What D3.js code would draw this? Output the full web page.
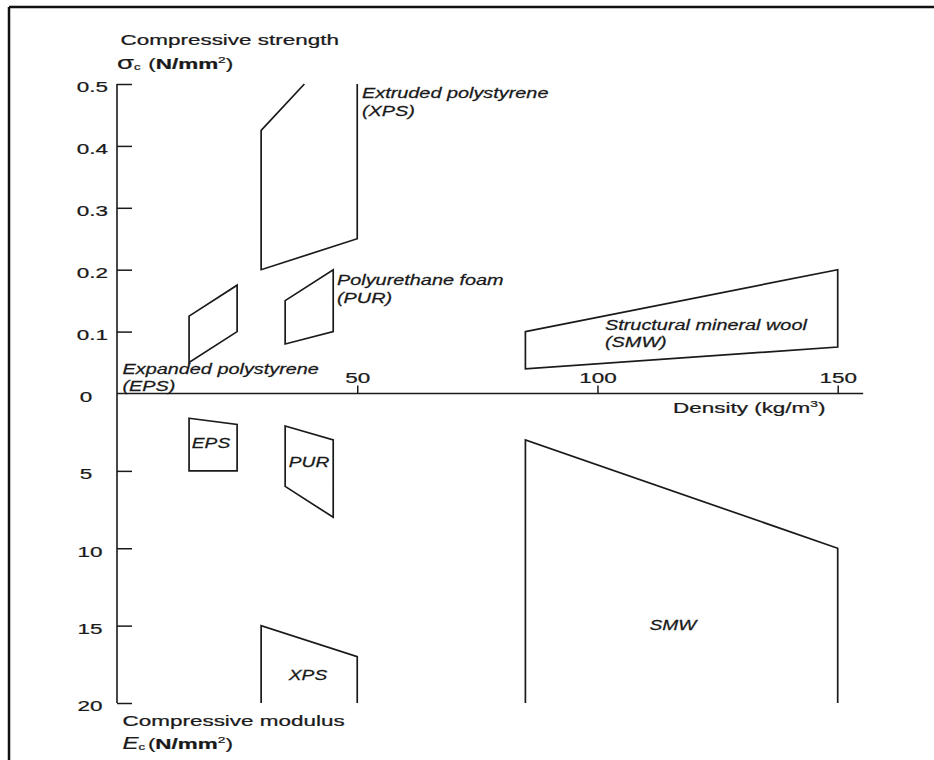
<!DOCTYPE html>
<html>
<head>
<meta charset="utf-8">
<script src="https://cdn.jsdelivr.net/npm/d3@7"></script>
<style>
  html, body { margin: 0; padding: 0; background: #fff; }
  svg { display: block; }
  text { font-family: "Liberation Sans", Arial, sans-serif; fill: #1a1a1a; stroke: #1a1a1a; stroke-width: 0.25px; }
</style>
</head>
<body>
<svg id="chart" width="934" height="760"></svg>
<script>
// Density in kg/m3, compressive strength in N/mm2, compressive modulus in N/mm2
const densityTicks = [50, 100, 150];
const strengthTicks = [0.1, 0.2, 0.3, 0.4, 0.5];
const modulusTicks = [0, 5, 10, 15, 20];

// Strength ranges (upper half): [density, strength]
const epsStrength = [[15, 0.125], [25, 0.175], [25, 0.1], [15, 0.05]];
const purStrength = [[35, 0.15], [45, 0.2], [45, 0.1], [35, 0.08]];
const xpsStrength = [[39, 0.5], [30, 0.425], [30, 0.2], [50, 0.25], [50, 0.5]];
const smwStrength = [[85, 0.1], [150, 0.2], [150, 0.075], [85, 0.04]];

// Modulus ranges (lower half): [density, modulus]
const epsModulus = [[15, 1.6], [25, 2.0], [25, 5], [15, 5]];
const purModulus = [[35, 2.1], [45, 3], [45, 8], [35, 6]];
const xpsModulus = [[30, 20], [30, 15], [50, 17], [50, 20]];
const smwModulus = [[85, 20], [85, 3], [150, 10], [150, 20]];

const strengthShapes = [
  { pts: epsStrength, closed: true },
  { pts: purStrength, closed: true },
  { pts: xpsStrength, closed: false },
  { pts: smwStrength, closed: true }
];
const modulusShapes = [
  { pts: epsModulus, closed: true },
  { pts: purModulus, closed: true },
  { pts: xpsModulus, closed: false },
  { pts: smwModulus, closed: false }
];

const svg = d3.select("#chart");
const ink = "#1a1a1a";
const sx = 1.45;   // wide lettering
const sxI = 1.37;  // wide italic lettering

// frame
svg.append("line").attr("x1", 9).attr("x2", 934).attr("y1", 7).attr("y2", 7)
  .attr("stroke", "#111").attr("stroke-width", 2.5);
svg.append("line").attr("x1", 9).attr("x2", 9).attr("y1", 7).attr("y2", 760)
  .attr("stroke", "#111").attr("stroke-width", 2.5);

const x = d3.scaleLinear().domain([0, 150]).range([117, 837.7]);
const yTop = d3.scaleLinear().domain([0, 0.5]).range([393.5, 84]);
const yBot = d3.scaleLinear().domain([0, 20]).range([393.5, 703]);
const xAxisEnd = 155.3;

// axis lines
svg.append("line").attr("x1", x(0)).attr("x2", x(0))
  .attr("y1", yTop(0.5)).attr("y2", yBot(20))
  .attr("stroke", ink).attr("stroke-width", 1.6);
svg.append("line").attr("x1", x(0)).attr("x2", x(xAxisEnd))
  .attr("y1", yTop(0)).attr("y2", yTop(0))
  .attr("stroke", ink).attr("stroke-width", 1.6);

function styleAxis(g) {
  g.select(".domain").remove();
  g.selectAll(".tick line").attr("stroke", ink).attr("stroke-width", 1.5);
  g.selectAll(".tick text").attr("fill", ink).style("font-size", "15.5px")
    .style("font-family", '"Liberation Sans", Arial, sans-serif');
}

// inward tick marks on the vertical axis
svg.append("g").attr("transform", `translate(${x(0)},0)`)
  .call(d3.axisRight(yTop).tickValues(strengthTicks).tickSize(15).tickFormat(""))
  .call(styleAxis);
svg.append("g").attr("transform", `translate(${x(0)},0)`)
  .call(d3.axisRight(yBot).tickValues(modulusTicks.filter(d => d > 0)).tickSize(15).tickFormat(""))
  .call(styleAxis);

// strength labels
const gTopLab = svg.append("g").attr("transform", `translate(${x(0)},0)`)
  .call(d3.axisLeft(yTop).tickValues(strengthTicks).tickSize(0).tickFormat(d3.format(".1f")))
  .call(styleAxis);
gTopLab.selectAll(".tick text")
  .attr("x", -9 / sx).attr("dy", "0.5em").attr("text-anchor", "end")
  .attr("transform", `scale(${sx},1)`);

// modulus labels
const gBotLab = svg.append("g").attr("transform", `translate(${x(0)},0)`)
  .call(d3.axisLeft(yBot).tickValues(modulusTicks).tickSize(0).tickFormat(d3.format("d")))
  .call(styleAxis);
gBotLab.selectAll(".tick text")
  .attr("text-anchor", "middle")
  .attr("x", d => (d < 10 ? -31 : -27) / sx)
  .attr("dy", "0.5em")
  .attr("transform", `scale(${sx},1)`);

// density axis: ticks upward, labels above
const gX = svg.append("g").attr("transform", `translate(0,${yTop(0)})`)
  .call(d3.axisTop(x).tickValues(densityTicks).tickSize(8).tickPadding(2.5).tickFormat(d3.format("d")))
  .call(styleAxis);
gX.selectAll(".tick text").attr("transform", `scale(${sx},1)`);

// range outlines
const lineTop = d3.line().x(d => x(d[0])).y(d => yTop(d[1]));
const lineBot = d3.line().x(d => x(d[0])).y(d => yBot(d[1]));
function drawShapes(shapes, gen) {
  svg.append("g").selectAll("path").data(shapes).join("path")
    .attr("d", s => gen(s.pts) + (s.closed ? "Z" : ""))
    .attr("fill", "none").attr("stroke", ink)
    .attr("stroke-width", 1.7).attr("stroke-linejoin", "miter");
}
drawShapes(strengthShapes, lineTop);
drawShapes(modulusShapes, lineBot);

// text helper with horizontal stretch
function label(px, py, parts, opts = {}) {
  const s = opts.sx || sx;
  const t = svg.append("g").attr("transform", `translate(${px},${py}) scale(${s},1)`)
    .append("text")
    .attr("text-anchor", opts.anchor || "start")
    .style("font-size", (opts.size || 15.5) + "px")
    .style("font-style", opts.italic ? "italic" : "normal");
  parts.forEach(p => {
    const ts = t.append("tspan").text(p.t);
    if (p.size) ts.style("font-size", p.size + "px");
    if (p.bold) ts.style("font-weight", "bold");
    if (p.italic) ts.style("font-style", "italic");
    if (p.dy) ts.attr("dy", p.dy);
    if (p.dx) ts.attr("dx", p.dx);
  });
  return t;
}

// axis titles
label(120.5, 45, [{ t: "Compressive strength" }]);
label(117, 69, [
  { t: "σ", size: 19 },
  { t: "c", size: 9, dy: 1 },
  { t: " (", dy: -1, dx: 1 },
  { t: "N/mm", bold: true },
  { t: "2", size: 9.5, dy: -6 },
  { t: ")", dy: 6 }
]);
label(122.5, 726, [{ t: "Compressive modulus" }]);
label(122.5, 749, [
  { t: "E", italic: true, size: 16.5 },
  { t: "c", size: 9, dy: 1 },
  { t: "(", dy: -1, dx: 2 },
  { t: "N/mm", bold: true },
  { t: "2", size: 9.5, dy: -6 },
  { t: ")", dy: 6 }
]);
label(673, 413, [
  { t: "Density (kg/m" },
  { t: "3", size: 9.5, dy: -6 },
  { t: ")", dy: 6 }
]);

// material labels
const it = { italic: true, size: 14.5, sx: sxI };
label(362, 98, [{ t: "Extruded polystyrene" }], it);
label(362, 116, [{ t: "(XPS)" }], it);
label(337, 285, [{ t: "Polyurethane foam" }], it);
label(337, 303, [{ t: "(PUR)" }], it);
label(605, 330, [{ t: "Structural mineral wool" }], it);
label(605, 347, [{ t: "(SMW)" }], it);
label(122.5, 374, [{ t: "Expanded polystyrene" }], it);
label(122.5, 391, [{ t: "(EPS)" }], it);

const itC = { italic: true, size: 14, sx: sxI, anchor: "middle" };
label(211, 448, [{ t: "EPS" }], itC);
label(309, 467, [{ t: "PUR" }], itC);
label(308, 680, [{ t: "XPS" }], itC);
label(673, 630, [{ t: "SMW" }], itC);
</script>
</body>
</html>
